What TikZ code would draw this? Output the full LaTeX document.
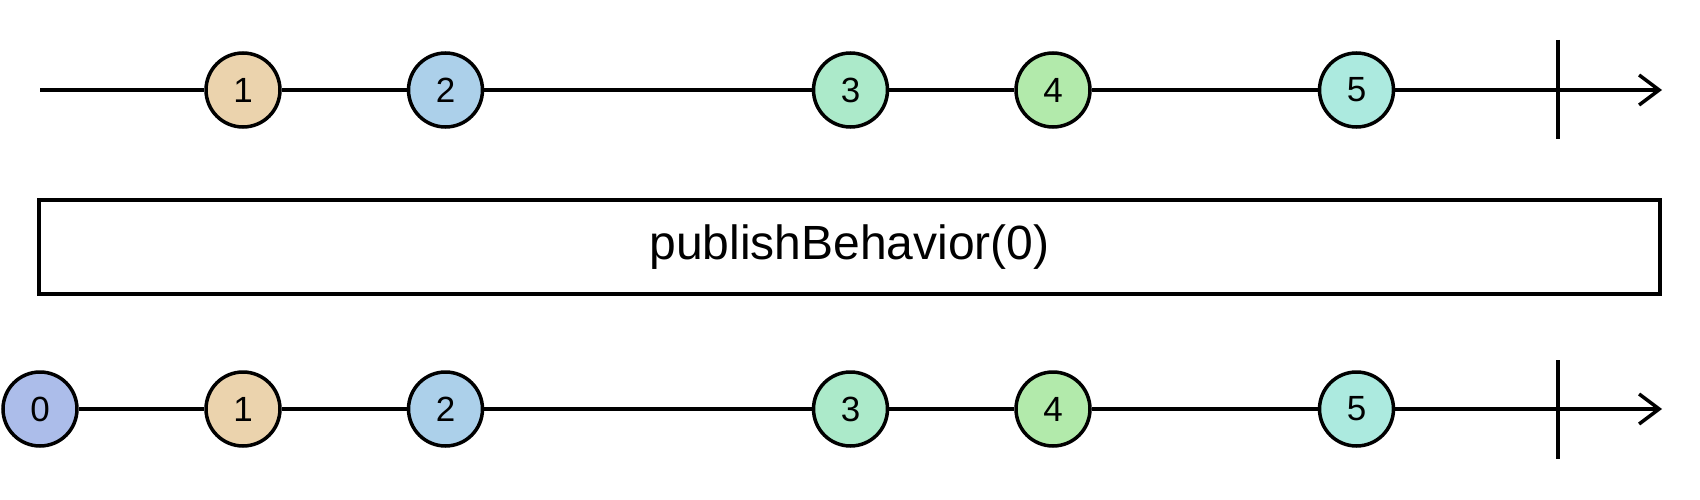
\documentclass[tikz,border=0pt]{standalone}
\usepackage{fontspec}
\setmainfont{Liberation Sans}
\usetikzlibrary{arrows.meta}
\definecolor{ev0}{RGB}{172,189,234}
\definecolor{ev1}{RGB}{235,211,173}
\definecolor{ev2}{RGB}{172,208,234}
\definecolor{ev3}{RGB}{172,234,202}
\definecolor{ev4}{RGB}{178,234,171}
\definecolor{ev5}{RGB}{172,234,223}
\tikzstyle{event} = [circle, minimum size=74pt, inner sep=0pt, text centered, draw=black, line width=3.5pt, font=\fontsize{35}{40}\selectfont]
\tikzstyle{operator} = [rectangle, minimum width=1621pt, minimum height=94pt, text centered, draw=black, line width=4pt, font=\fontsize{48}{56}\selectfont]
\tikzstyle{timeline} = [line width=3.5pt]
\tikzstyle{arrow} = [line width=3.5pt, -{Straight Barb[length=20pt, width=30pt]}]

\begin{document}
\begin{tikzpicture}[x=1pt, y=-1pt, node distance=202.5pt]
    \useasboundingbox (0,0) rectangle (1700,500);

    % input stream
    \coordinate (tstart) at (40,90);
    \node (t1) [event, fill=ev1] at (243,90) {1};
    \node (t2) [event, fill=ev2, right of=t1] {2};
    \node (t3) [event, fill=ev3, right of=t2, xshift=202.5pt] {3};
    \node (t4) [event, fill=ev4, right of=t3] {4};
    \node (t5) [event, fill=ev5, right of=t4, xshift=101pt] {5};
    \coordinate (tend) at (1662,90);
    \coordinate (ttop) at (1558,40);
    \coordinate (tbot) at (1558,139);

    % operator
    \node (op) [operator] at (849.5,247) {publishBehavior(0)};

    % output stream
    \node (b0) [event, fill=ev0] at (40,409) {0};
    \node (b1) [event, fill=ev1, below of=t1, node distance=319pt] {1};
    \node (b2) [event, fill=ev2, below of=t2, node distance=319pt] {2};
    \node (b3) [event, fill=ev3, below of=t3, node distance=319pt] {3};
    \node (b4) [event, fill=ev4, below of=t4, node distance=319pt] {4};
    \node (b5) [event, fill=ev5, below of=t5, node distance=319pt] {5};
    \coordinate (bend) at (1662,409);
    \coordinate (btop) at (1558,360);
    \coordinate (bbot) at (1558,459);

\draw [timeline] (tstart) -- (t1);
\draw [timeline] (t1) -- (t2);
\draw [timeline] (t2) -- (t3);
\draw [timeline] (t3) -- (t4);
\draw [timeline] (t4) -- (t5);
\draw [arrow] (t5) -- (tend);
\draw [timeline] (ttop) -- (tbot);

\draw [timeline] (b0) -- (b1);
\draw [timeline] (b1) -- (b2);
\draw [timeline] (b2) -- (b3);
\draw [timeline] (b3) -- (b4);
\draw [timeline] (b4) -- (b5);
\draw [arrow] (b5) -- (bend);
\draw [timeline] (btop) -- (bbot);

\end{tikzpicture}
\end{document}
